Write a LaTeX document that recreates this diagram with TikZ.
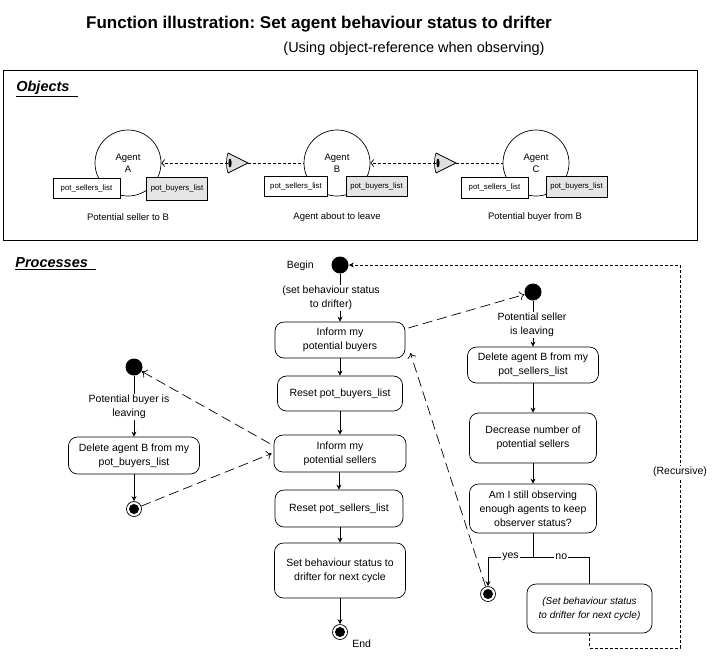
\documentclass[tikz,border=0pt]{standalone}
\usepackage{fontspec}
\setmainfont{Liberation Sans}
\usetikzlibrary{arrows.meta,calc}
\frenchspacing
\begin{document}
\begin{tikzpicture}[x=1pt,y=-1pt,line width=0.7pt,
  proc/.style={draw,rounded corners=9pt,align=center,font=\fontsize{10.5}{14}\selectfont,inner sep=2pt},
  lbl/.style={align=center,font=\fontsize{10.5}{14}\selectfont,inner sep=1pt},
  objlbl/.style={align=center,font=\fontsize{9.5}{11}\selectfont,inner sep=1pt},
  startdot/.style={circle,fill=black,minimum size=17pt,inner sep=0pt},
  enddot/.style={circle,draw,minimum size=15pt,inner sep=0pt,
     path picture={\fill (path picture bounding box.center) circle (5pt);}},
  flow/.style={-{Stealth[length=5pt,width=5pt]}},
  msg/.style={dash pattern=on 10pt off 5pt,-{To[length=5pt,width=9pt]}},
  rec/.style={dash pattern=on 3pt off 2pt},
  objdash/.style={dash pattern=on 3pt off 2pt},
  agent/.style={circle,draw,minimum size=66pt,inner sep=0pt,align=center,font=\fontsize{9.5}{12}\selectfont},
  lst/.style={draw,font=\fontsize{7.8}{9}\selectfont,inner sep=0pt,minimum height=20pt},
  heading/.style={anchor=west,font=\bfseries\itshape\fontsize{14.5}{16}\selectfont,inner sep=0pt},
  lookeye/.pic={
     \fill[gray!25] (0,-10) -- (20,0) -- (0,10) -- cycle;
     \draw (0,-10) -- (20,0) -- (0,10);
     \draw (0,-10) .. controls (-2,-4) and (-2,4) .. (0,10);
     \fill (2,0) ellipse (1.6 and 4.5);
  }
]
\useasboundingbox (0,0) rectangle (717,657);

% titles
\node[font=\bfseries\fontsize{17}{19}\selectfont] (title) at (319,24) {Function illustration: Set agent behaviour status to drifter};
\node[font=\fontsize{14.5}{16}\selectfont] (sub) at (414,49) {(Using object-reference when observing)};

% objects
\node[draw,minimum width=694pt,minimum height=170pt,inner sep=0pt] (objbox) at (350,155) {};
\node[heading] (objh) at (16,89) {\underline{Objects\ \ }};

\node[agent] (agA) at (128,163) {Agent\\A};
\node[agent] (agB) at (337,163) {Agent\\B};
\node[agent] (agC) at (536,163) {Agent\\C};

\node[lst,fill=white,minimum width=67pt] (aS) at (86.5,188) {pot\_sellers\_list};
\node[lst,fill=gray!20,minimum width=61pt,minimum height=23pt] (aB) at (177,188.5) {pot\_buyers\_list};
\node[lst,fill=white,minimum width=63pt] (bS) at (296,186) {pot\_sellers\_list};
\node[lst,fill=gray!20,minimum width=61pt] (bB) at (376.5,186) {pot\_buyers\_list};
\node[lst,fill=white,minimum width=67pt,minimum height=21pt] (cS) at (494.5,187.5) {pot\_sellers\_list};
\node[lst,fill=gray!20,minimum width=61pt,minimum height=21pt] (cB) at (576.5,186.5) {pot\_buyers\_list};

\node[objlbl] (labA) at (128,217) {Potential seller to B};
\node[objlbl] (labB) at (337,217) {Agent about to leave};
\node[objlbl] (labC) at (535,217) {Potential buyer from B};

\coordinate (e1L) at (228,163);
\coordinate (e1R) at (248,163);
\coordinate (e2L) at (436,163);
\coordinate (e2R) at (456,163);
\pic at (e1L) {lookeye};
\pic at (e2L) {lookeye};
\draw[objdash,-{Straight Barb[length=3pt,width=7pt]}] (e1L) -- (agA);
\draw[objdash] (e1R) -- (agB);
\draw[objdash,-{Straight Barb[length=3pt,width=7pt]}] (e2L) -- (agB);
\draw[objdash] (e2R) -- (agC);

% processes
\node[heading] (proch) at (15,264) {\underline{Processes\ \ }};

% centre column
\node[startdot] (begin) at (340,265) {};
\node[lbl,anchor=east] (begintxt) at (315,266) {Begin};
\node[lbl] (settxt) at (331,298) {(set behaviour status\\to drifter)};
\node[proc,minimum width=130pt,minimum height=36pt] (ipb) at (340,340) {Inform my\\potential buyers};
\node[proc,minimum width=125pt,minimum height=35pt] (rpb) at (340,393.5) {Reset pot\_buyers\_list};
\node[proc,minimum width=132pt,minimum height=37pt] (ips) at (340,453.5) {Inform my\\potential sellers};
\node[proc,minimum width=128pt,minimum height=37pt] (rps) at (339,508.5) {Reset pot\_sellers\_list};
\node[proc,minimum width=131pt,minimum height=55pt] (sbs) at (340,570.5) {Set behaviour status to\\drifter for next cycle};
\node[enddot] (end) at (340,632) {};
\node[lbl,anchor=west] (endtxt) at (351,644) {End};

\draw (begin) -- (begin |- settxt.north);
\draw[flow] (settxt.south -| begin) -- (ipb.north -| begin);
\draw[flow] (ipb) -- (rpb);
\draw[flow] (rpb) -- (ips);
\draw[flow] (ips.south -| rps) -- (rps);
\draw[flow] (rps.south -| sbs) -- (sbs);
\draw[flow] (sbs) -- (end);

% right column
\node[startdot] (pss) at (533,292) {};
\node[lbl] (psstxt) at (532,325) {Potential seller\\is leaving};
\node[proc,minimum width=131pt,minimum height=36pt] (dsel) at (533,365) {Delete agent B from my\\pot\_sellers\_list};
\node[proc,minimum width=127pt,minimum height=50pt] (dec) at (533,438) {Decrease number of\\potential sellers};
\node[proc,minimum width=127pt,minimum height=49pt] (am) at (533,508.5) {Am I still observing\\enough agents to keep\\observer status?};
\node[enddot] (fs) at (488,594) {};
\node[proc,minimum width=125pt,minimum height=49pt,font=\itshape\fontsize{10}{14}\selectfont] (sbi) at (589.5,608.5) {(Set behaviour status\\to drifter for next cycle)};

\draw (pss) -- (pss |- psstxt.north);
\draw[flow] (psstxt.south -| pss) -- (dsel.north -| pss);
\draw[flow] (dsel) -- (dec);
\draw[flow] (dec) -- (am);

\coordinate (br) at (533,557);
\coordinate (yesc) at (488,557);
\coordinate (noc) at (589.5,557);
\draw[flow] (am.south) -- (br) -- node[lbl,fill=white] (yestxt) {yes} (yesc) -- (fs);
\draw (br) -- node[lbl,fill=white] (notxt) {no} (noc) -- (sbi);

% recursive loop
\coordinate (r1) at (589.5,648);
\coordinate (r2) at (680,648);
\coordinate (r3) at (680,265);
\draw[rec,-{Stealth[length=5pt,width=5pt]}] (sbi) -- (r1) -- (r2) -- node[pos=0.46,lbl,fill=white] (rectxt) {(Recursive)} (r3) -- (begin);

% left column
\node[startdot] (pbs) at (134,367) {};
\node[lbl] (pbstxt) at (129,407) {Potential buyer is\\leaving};
\node[proc,minimum width=131pt,minimum height=37pt] (dbuy) at (134,455.5) {Delete agent B from my\\pot\_buyers\_list};
\node[enddot] (fb) at (134,509) {};
\draw (pbs) -- (pbs |- pbstxt.north);
\draw[flow] (pbstxt.south -| pbs) -- (dbuy.north -| pbs);
\draw[flow] (dbuy) -- (fb);

% messages
\draw[msg] ([xshift=3pt,yshift=12pt]ipb.east) -- (pss);
\draw[msg] ([xshift=-4pt,yshift=10pt]ips.west) -- (pbs);
\draw[msg] (fb) -- ([xshift=-2pt]ips.west);
\draw[msg] (fs) -- ([xshift=5pt,yshift=-13pt]ipb.east);
\end{tikzpicture}
\end{document}
